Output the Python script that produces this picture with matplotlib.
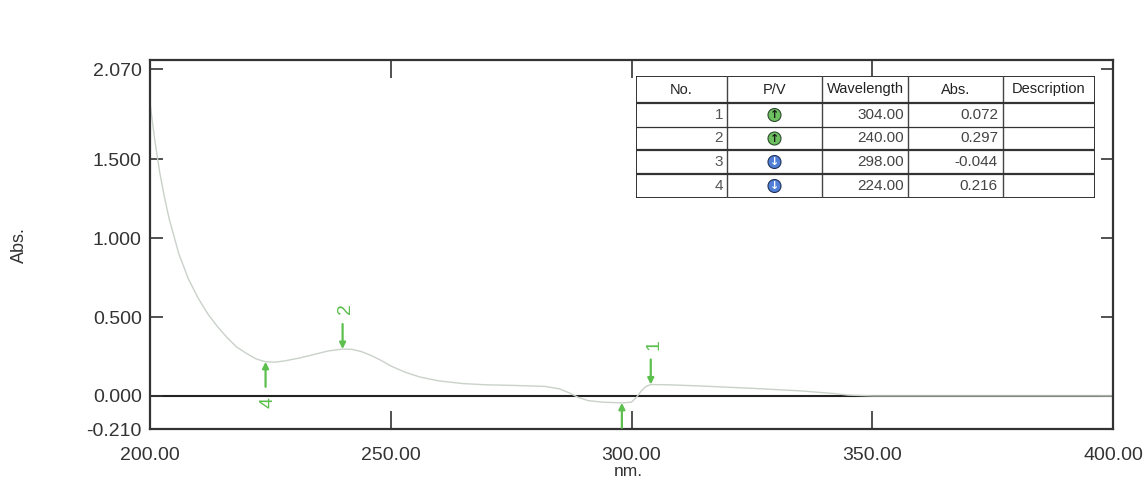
"""
UV-Vis absorbance spectrum, 200-400 nm, with the peak/valley pick table.
Output: out.png
"""

import matplotlib
matplotlib.use("Agg")
import matplotlib.pyplot as plt
from matplotlib.patches import Circle

matplotlib.rcParams.update({
    "font.family": ["Liberation Sans", "DejaVu Sans"],
    "font.size": 14,
})

# ============================== DATA ==============================
# Scanned spectrum (nm, Abs.)
wavelength = [200, 201, 202, 203, 204, 206, 208, 210, 212, 214, 216, 218,
              220, 222, 224, 226, 228, 231, 234, 237, 240, 242, 244, 246,
              248, 250, 253, 256, 260, 265, 270, 276, 282, 285, 287, 289,
              291, 294, 298, 300, 301, 302, 303, 304, 308, 315, 325, 335,
              342, 345, 350, 400]
absorbance = [1.86, 1.62, 1.42, 1.26, 1.12, 0.90, 0.74, 0.62, 0.52, 0.44,
              0.37, 0.31, 0.27, 0.235, 0.216, 0.214, 0.222, 0.240, 0.262,
              0.285, 0.297, 0.295, 0.280, 0.255, 0.225, 0.190, 0.150, 0.120,
              0.095, 0.078, 0.070, 0.066, 0.060, 0.045, 0.020, -0.010,
              -0.030, -0.040, -0.044, -0.040, -0.010, 0.030, 0.060, 0.072,
              0.070, 0.062, 0.048, 0.032, 0.015, 0.005, 0.0, 0.0]

# Peak pick table
pick_no = [1, 2, 3, 4]
pick_type = ["P", "P", "V", "V"]          # P = peak, V = valley
pick_wl = [304.00, 240.00, 298.00, 224.00]
pick_abs = [0.072, 0.297, -0.044, 0.216]
table_header = ["No.", "P/V", "Wavelength", "Abs.", "Description"]

x_ticks = [200, 250, 300, 350, 400]
y_ticks = [-0.210, 0.000, 0.500, 1.000, 1.500, 2.070]
# ==================================================================

GREEN = "#5cbf4e"
CURVE = "#c9d1c9"
AXIS = "#333333"

fig = plt.figure(figsize=(11.44, 4.8), dpi=100)
ax = fig.add_axes([150 / 1144, 1 - 429 / 480, 963 / 1144, 369 / 480])

ax.plot(wavelength, absorbance, color=CURVE, lw=1.0, zorder=2)
ax.axhline(0, color="#222222", lw=1.5, zorder=1)

ax.set_xlim(200, 400)
ax.set_ylim(-0.21, 2.13)
ax.set_xticks(x_ticks)
ax.set_xticklabels([f"{v:.2f}" for v in x_ticks])
ax.set_yticks(y_ticks)
ax.set_yticklabels([f"{v:.3f}" for v in y_ticks])
for s in ax.spines.values():
    s.set_linewidth(1.6)
    s.set_color(AXIS)
ax.tick_params(axis="x", direction="in", length=13, width=1.2, color=AXIS,
               top=True, pad=13, labelsize=14, labelcolor="#333333")
ax.tick_params(axis="y", direction="in", length=9, width=1.2, color=AXIS,
               right=True, pad=6, labelsize=14, labelcolor="#333333")

# peak / valley arrows with rotated pick numbers
for n, kind, wl, a in zip(pick_no, pick_type, pick_wl, pick_abs):
    sign = 1 if kind == "P" else -1
    ax.annotate("", xy=(wl, a), xytext=(0, sign * 18), textcoords="offset points",
                arrowprops=dict(arrowstyle="-|>", color=GREEN, lw=1.6,
                                mutation_scale=9, shrinkA=0, shrinkB=0),
                zorder=4)
    ax.annotate(str(n), xy=(wl, a), xytext=(2, sign * 29), textcoords="offset points",
                rotation=90, ha="center", va="center", color=GREEN, fontsize=14,
                clip_on=True, zorder=4)

fig.text(19 / 1144, 1 - 245 / 480, "Abs.", rotation=90, ha="center", va="center",
         fontsize=13, color="#333333")
fig.text(628 / 1144, 1 - 471 / 480, "nm.", ha="center", va="center",
         fontsize=12.5, color="#333333")

# ---- pick table, drawn in its own pixel-unit axes ----
col_edges = [636, 727, 822, 908, 1003, 1095]
row_edges = [76, 103, 127, 150, 174, 198]
tab = fig.add_axes([636 / 1144, 1 - 198 / 480, 459 / 1144, 122 / 480])
tab.set_xlim(col_edges[0], col_edges[-1])
tab.set_ylim(row_edges[-1], row_edges[0])
tab.axis("off")
tab.add_patch(plt.Rectangle((col_edges[0], row_edges[0]), col_edges[-1] - col_edges[0],
                            row_edges[-1] - row_edges[0], fc="white", ec="#222222",
                            lw=1.3, zorder=0))
for xe in col_edges[1:-1]:
    tab.plot([xe, xe], [row_edges[0], row_edges[-1]], color="#444444", lw=1.0)
for i, ye in enumerate(row_edges[1:-1]):
    tab.plot([col_edges[0], col_edges[-1]], [ye, ye], color="#333333",
             lw=0.9 if i == 1 else 1.6)

hy = (row_edges[0] + row_edges[1]) / 2
for j, h in enumerate(table_header):
    tab.text((col_edges[j] + col_edges[j + 1]) / 2, hy, h, ha="center", va="center",
             fontsize=10.5, color="#222222")

for r, (n, kind, wl, a) in enumerate(zip(pick_no, pick_type, pick_wl, pick_abs)):
    yc = (row_edges[r + 1] + row_edges[r + 2]) / 2
    tab.text(col_edges[1] - 4, yc, str(n), ha="right", va="center",
             fontsize=11, color="#555555")
    tab.text(col_edges[3] - 4, yc, f"{wl:.2f}", ha="right", va="center",
             fontsize=11, color="#444444")
    tab.text(col_edges[4] - 5, yc, f"{a:.3f}", ha="right", va="center",
             fontsize=11, color="#444444")
    xc = (col_edges[1] + col_edges[2]) / 2
    fc = "#6cc060" if kind == "P" else "#4f7fd6"
    tab.add_patch(Circle((xc, yc), 6.5, fc=fc, ec="#2f4a2f" if kind == "P" else "#23335a",
                         lw=0.8, zorder=3))
    tab.text(xc, yc, "\u2191" if kind == "P" else "\u2193", ha="center", va="center",
             fontsize=8, color="#1a1a1a" if kind == "P" else "white",
             family="DejaVu Sans", fontweight="bold", zorder=4)

fig.savefig("out.png", dpi=100)
